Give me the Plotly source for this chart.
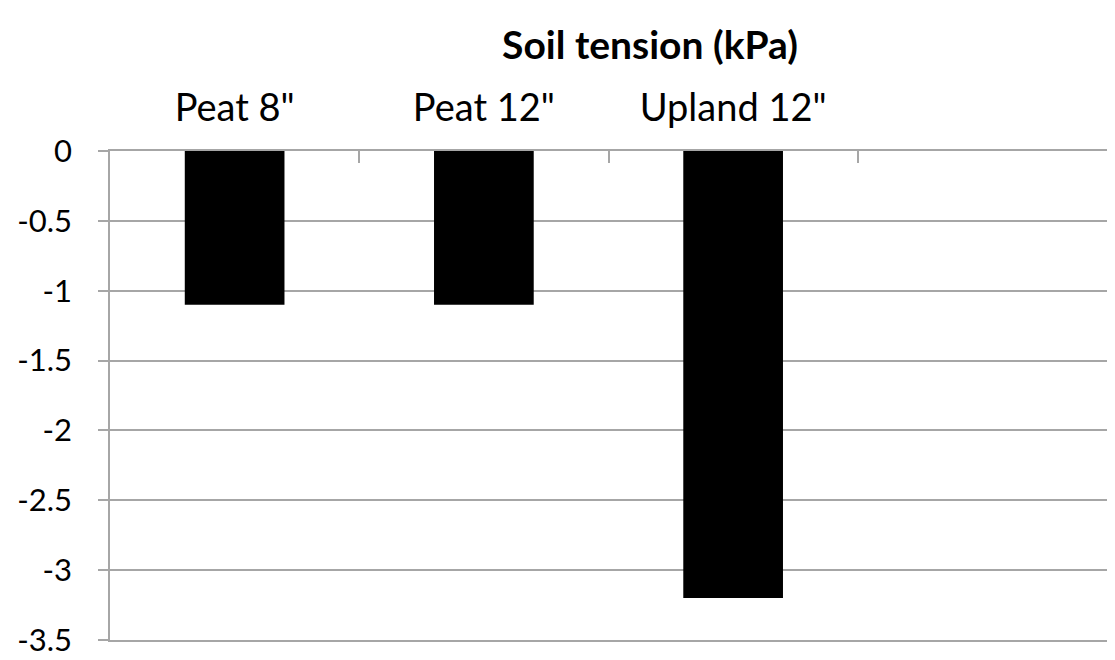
import plotly.graph_objects as go

categories = ['Peat 8"', 'Peat 12"', 'Upland 12"', " "]
tension = [-1.1, -1.1, -3.2, None]
y_ticks = [0, -0.5, -1, -1.5, -2, -2.5, -3, -3.5]

FONT = "Lato, Open Sans, sans-serif"
GRID = "#a6a6a6"

# the page body adds an 8px offset, so the figure is sized a bit smaller
W, H = 1099, 652

fig = go.Figure(
    go.Bar(x=categories, y=tension, width=0.4, marker_color="black",
           marker_line_width=0)
)
fig.update_layout(
    width=W, height=H,
    margin=dict(l=102, r=0, t=143, b=20),
    plot_bgcolor="white", paper_bgcolor="white",
    font=dict(family=FONT, color="black"),
    showlegend=False,
    title=dict(text="<b>Soil tension (kPa)</b>", xref="container", x=642 / W,
               xanchor="center", yref="container", y=1 - 37 / H,
               yanchor="middle", font=dict(size=39, family=FONT)),
    xaxis=dict(side="top", showline=True, mirror=True, linecolor=GRID,
               linewidth=1.5, ticks="inside", tickson="boundaries", ticklen=12,
               tickcolor=GRID, tickwidth=1.5, showgrid=False,
               tickfont=dict(size=38), ticklabelstandoff=13),
    yaxis=dict(range=[-3.5, 0], tickvals=y_ticks,
               ticktext=[f"{v:g}" for v in y_ticks],
               showline=True, linecolor=GRID, linewidth=1.5,
               ticks="outside", ticklen=10, tickcolor=GRID, tickwidth=1.5,
               showgrid=True, gridcolor=GRID, gridwidth=1.5,
               zeroline=False, tickfont=dict(size=31),
               ticklabelstandoff=20),
)
fig.write_html("out.html")
